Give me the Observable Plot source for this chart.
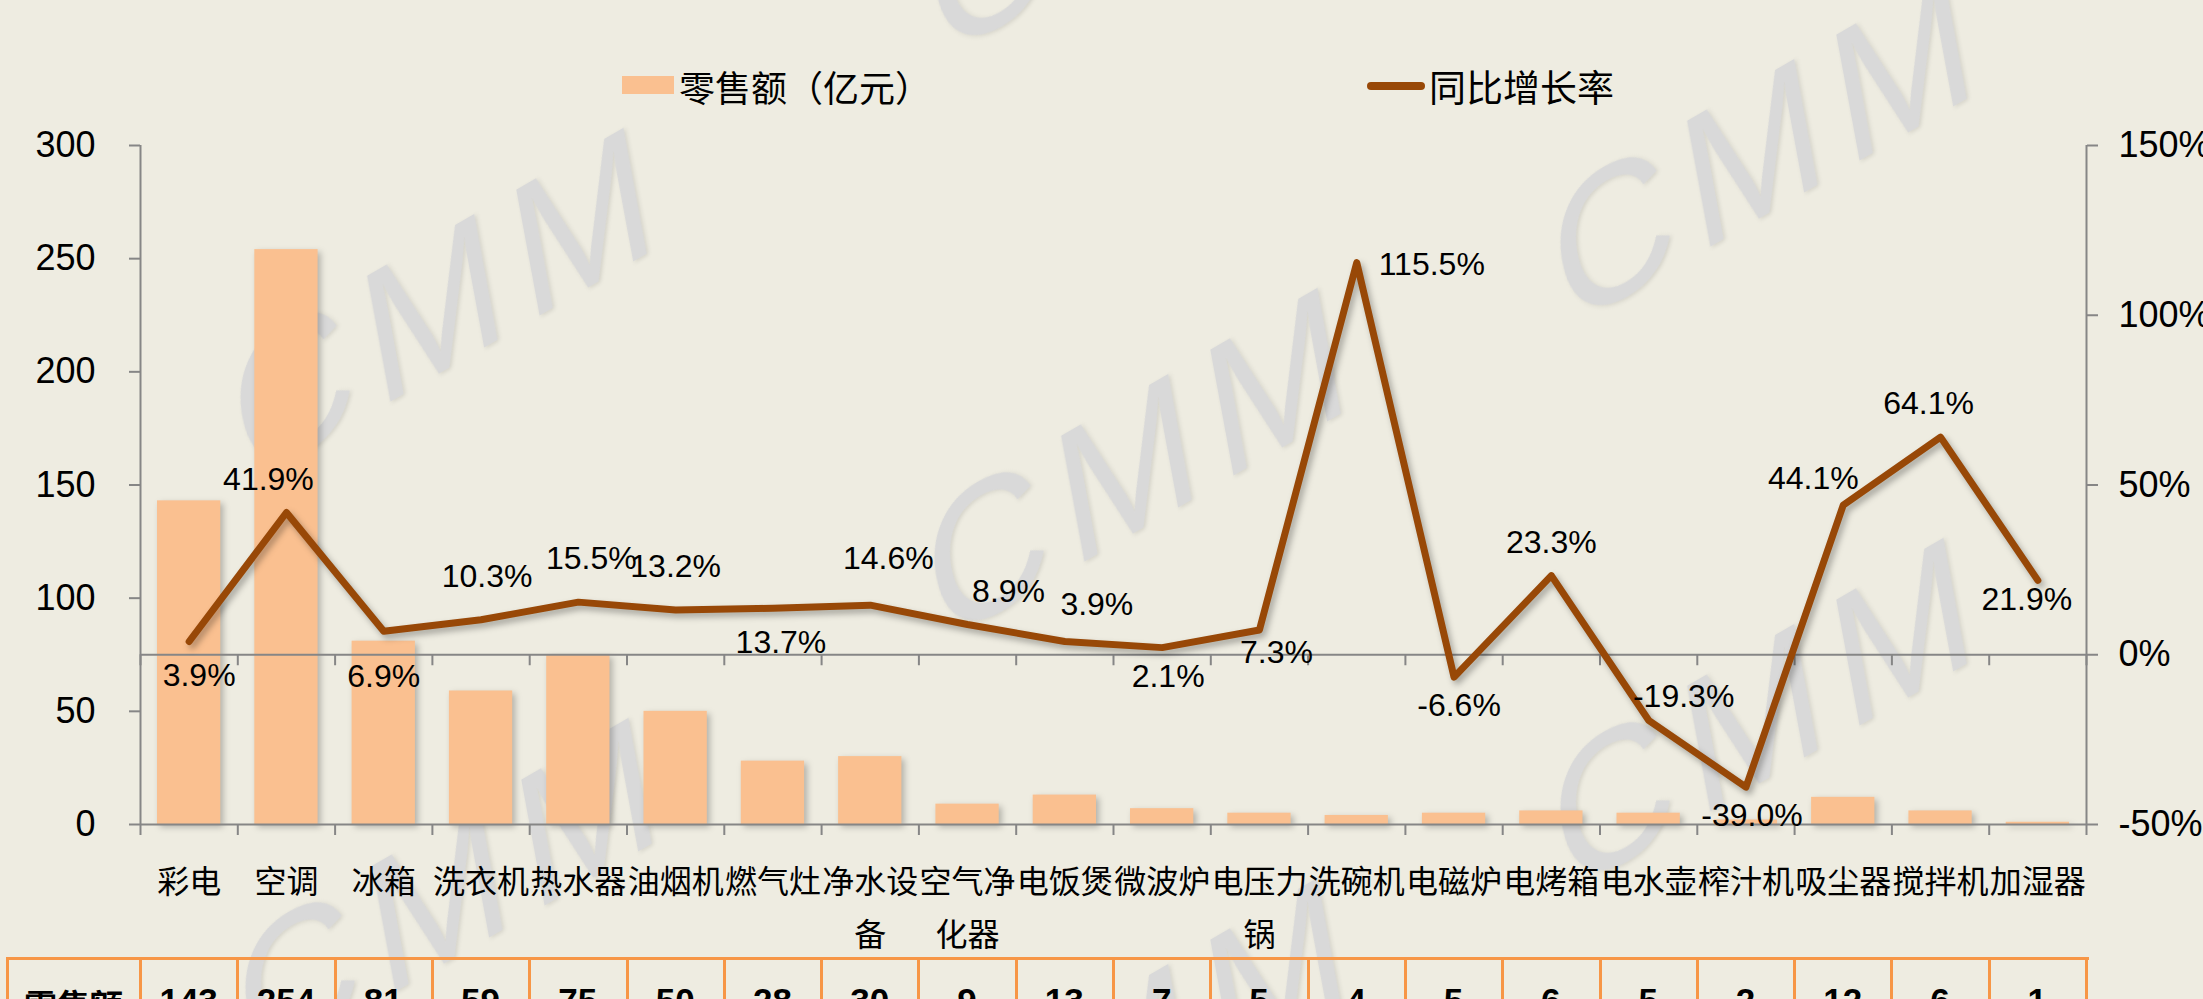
<!DOCTYPE html>
<html><head><meta charset="utf-8">
<script src="https://cdn.jsdelivr.net/npm/d3@7"></script>
<script src="https://cdn.jsdelivr.net/npm/@observablehq/plot@0.6"></script>
<style>
html,body{margin:0;padding:0;background:#EEECE1;width:2203px;height:999px;overflow:hidden;}
#root{position:relative;width:2203px;height:999px;}
.abs{position:absolute;}
#root svg{position:absolute;left:0;top:0;}
</style></head><body><div id="root"></div>
<script>
// ---- data ----
const categories = ["彩电","空调","冰箱","洗衣机","热水器","油烟机","燃气灶","净水设备","空气净化器","电饭煲","微波炉","电压力锅","洗碗机","电磁炉","电烤箱","电水壶","榨汁机","吸尘器","搅拌机","加湿器"];
const sales = [143,254,81,59,75,50,28,30,9,13,7,5,4,5,6,5,2,12,6,1];
const growth = [3.9,41.9,6.9,10.3,15.5,13.2,13.7,14.6,8.9,3.9,2.1,7.3,115.5,-6.6,23.3,-19.3,-39.0,44.1,64.1,21.9];
const leftTicks = [0,50,100,150,200,250,300];
const rightTicks = [-50,0,50,100,150];
const seriesNames = ["零售额（亿元）","同比增长率"];
const tableHeader = "零售额";

// ---- styling config ----
const BAR = "#FAC090", LINE = "#984807", AXIS = "#868686", GRIDORANGE = "#F79646";
const LATIN = "'Liberation Sans', Arial, sans-serif";
const CJK = "'Noto Sans CJK SC', 'Noto Sans', sans-serif";
// label nudges [dx, dy] in pixels for each data label
const labelNudge = [[10,34],[-18,-33],[0,45],[6,-43],[13,-43],[0,-43],[8,35],[18,-46],[41,-33],[32,-37],[6,29],[17,23],[75,2],[5,29],[0,-33],[35,-24],[6,29],[-30,-26],[-12,-33],[-11,19]];

const data = categories.map((c, i) => ({i, category: c, sales: sales[i], growth: growth[i]}));
const lMin = leftTicks[0], lMax = leftTicks[leftTicks.length-1];
const rMin = rightTicks[0], rMax = rightTicks[rightTicks.length-1];
const toLeft = g => lMin + (g - rMin) * (lMax - lMin) / (rMax - rMin);
const fromLeft = v => rMin + (v - lMin) * (rMax - rMin) / (lMax - lMin);
const wrap = s => s.length > 3 ? s.slice(0,3) + "\n" + s.slice(3) : s;

const root = document.getElementById("root");

// ---- watermark ----
const wmNS = "http://www.w3.org/2000/svg";
const wm = document.createElementNS(wmNS, "svg");
wm.setAttribute("width", 2203); wm.setAttribute("height", 999);
const wmSpots = [[246,485],[251,1075],[940,60],[940,645],[940,1235],[1566,330],[1566,895]];
for (const [tx, ty] of wmSpots) {
  const t = document.createElementNS(wmNS, "text");
  t.textContent = "CMM";
  t.setAttribute("transform", `matrix(0.866,-0.5,0.182,0.983,${tx},${ty})`);
  t.setAttribute("font-size", 185);
  t.setAttribute("font-family", LATIN);
  t.setAttribute("letter-spacing", 18);
  t.setAttribute("fill", "#d9d9d9");
  t.style.filter = "drop-shadow(2px 2px 2px rgba(0,0,0,0.10))";
  wm.appendChild(t);
}
root.appendChild(wm);

// ---- chart ----
const labelMarks = data.map((d, k) => Plot.text([d], {
  x: d => d.i + 0.5, y: d => toLeft(d.growth), text: d => d.growth.toFixed(1) + "%",
  dx: labelNudge[k][0], dy: labelNudge[k][1],
  fontSize: 32, fontFamily: LATIN, fill: "black"
}));

const boundaries = d3.range(categories.length + 1);
const tickRows = boundaries.flatMap(b => [{b, y: lMin}, {b, y: toLeft(0)}]);

const chart = Plot.plot({
  width: 2203, height: 999,
  marginTop: 145, marginBottom: 175, marginLeft: 140, marginRight: 117,
  style: {background: "transparent", overflow: "visible", color: "black"},
  x: {type: "linear", domain: [0, categories.length], axis: null},
  y: {domain: [lMin, lMax], axis: null},
  marks: [
    Plot.rectY(data, {x1: d => d.i, x2: d => d.i + 1, y: "sales", fill: BAR, insetLeft: 17, insetRight: 17}),
    Plot.ruleY([lMin, toLeft(0)], {stroke: AXIS, strokeWidth: 2}),
    Plot.ruleX([0, categories.length], {stroke: AXIS, strokeWidth: 2}),
    Plot.ruleX(tickRows, {x: "b", y1: "y", y2: "y", insetBottom: -11, stroke: AXIS, strokeWidth: 2}),
    Plot.axisY(leftTicks, {anchor: "left", tickSize: 11, tickPadding: 34, fontSize: 36, fontFamily: LATIN, stroke: AXIS, strokeWidth: 2, fill: "black"}),
    Plot.axisY(rightTicks.map(toLeft), {anchor: "right", tickSize: 11, tickPadding: 21, fontSize: 36, fontFamily: LATIN, stroke: AXIS, strokeWidth: 2, fill: "black", textAnchor: "start", tickFormat: v => Math.round(fromLeft(v)) + "%"}),
    Plot.line(data, {x: d => d.i + 0.5, y: d => toLeft(d.growth), stroke: LINE, strokeWidth: 7, strokeLinejoin: "round", strokeLinecap: "round"}),
    ...labelMarks,
    Plot.text(data, {x: d => d.i + 0.5, y: d => lMin, text: d => wrap(d.category), dy: 31, lineAnchor: "top", lineHeight: 1.66, fontSize: 32, fontFamily: CJK, fill: "black"})
  ]
});
d3.select(chart).selectAll('g[aria-label="rect"]').style("filter", "drop-shadow(3px 3px 3px rgba(0,0,0,0.25))");
d3.select(chart).selectAll('g[aria-label="line"]').style("filter", "drop-shadow(3px 4px 3px rgba(0,0,0,0.3))");
root.appendChild(chart);

// ---- legend ----
function addDiv(css, html) {
  const el = document.createElement("div");
  el.className = "abs";
  Object.assign(el.style, css);
  if (html != null) el.textContent = html;
  root.appendChild(el);
  return el;
}
addDiv({left: "622px", top: "76px", width: "52px", height: "18px", background: BAR});
addDiv({left: "679px", top: "68px", fontSize: "36px", lineHeight: "36px", fontFamily: CJK, color: "black", whiteSpace: "nowrap"}, seriesNames[0]);
addDiv({left: "1367px", top: "82px", width: "58px", height: "8px", background: LINE, borderRadius: "4px"});
addDiv({left: "1429px", top: "68px", fontSize: "37px", lineHeight: "37px", fontFamily: CJK, color: "black", whiteSpace: "nowrap"}, seriesNames[1]);

// ---- data table ----
const xs = chart.scale("x");
const tTop = 957, bw = 3;
const left0 = 7, x0 = xs.apply(0), xEnd = xs.apply(categories.length);
addDiv({left: left0 + "px", top: tTop + "px", width: (xEnd - left0 + bw) + "px", height: bw + "px", background: GRIDORANGE});
const cellEdges = [left0, ...boundaries.map(b => xs.apply(b))];
for (const e of cellEdges) addDiv({left: (e - 1) + "px", top: tTop + "px", width: bw + "px", height: "80px", background: GRIDORANGE});
addDiv({left: left0 + "px", top: "988px", width: (x0 - left0) + "px", textAlign: "center", fontSize: "33px", lineHeight: "33px", fontWeight: "bold", fontFamily: CJK, color: "black"}, tableHeader);
data.forEach(d => {
  const a = xs.apply(d.i), b = xs.apply(d.i + 1);
  addDiv({left: a + "px", top: "983px", width: (b - a) + "px", textAlign: "center", fontSize: "35px", lineHeight: "35px", fontWeight: "bold", fontFamily: LATIN, color: "black"}, String(d.sales));
});
</script></body></html>
